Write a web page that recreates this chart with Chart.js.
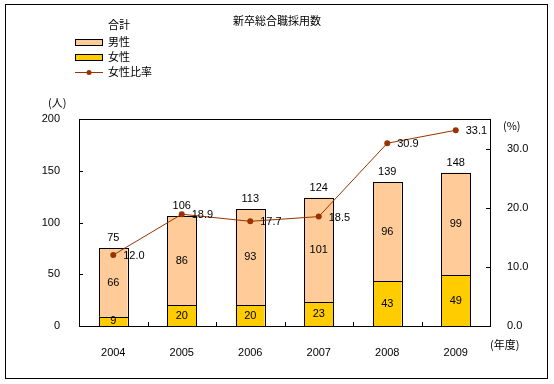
<!DOCTYPE html>
<html lang="ja">
<head>
<meta charset="UTF-8">
<title>新卒総合職採用数</title>
<script src="https://cdn.jsdelivr.net/npm/chart.js"></script>
<style>
  body { margin: 0; background: #fff; }
  #wrap { width: 554px; height: 384px; }
</style>
</head>
<body>
<div id="wrap"><canvas id="grafico" width="554" height="384"></canvas></div>
<script>
// dados
const years = ["2004", "2005", "2006", "2007", "2008", "2009"];
const female = [9, 20, 20, 23, 43, 49];
const male = [66, 86, 93, 101, 96, 99];
const total = [75, 106, 113, 124, 139, 148];
const femaleRatio = [12.0, 18.9, 17.7, 18.5, 30.9, 33.1];
const rightTicks = [0, 10, 20, 30];

const FONT = '"Liberation Sans", "Noto Sans CJK JP", sans-serif';
const JP = '"Noto Sans CJK JP", sans-serif';
const C_MALE = "#FFCC99";
const C_FEMALE = "#FFCC00";
const C_LINE = "#993300";

// desenha moldura, marcas, rótulos, legenda e título
const extras = {
  id: "extras",
  beforeDraw(chart) {
    const ctx = chart.ctx;
    ctx.save();
    ctx.fillStyle = "#fff";
    ctx.fillRect(0, 0, chart.width, chart.height);
    ctx.restore();
  },
  afterDatasetDraw(chart, args) {
    // contorno nítido das barras
    if (args.meta.type !== "bar") return;
    const ctx = chart.ctx;
    ctx.save();
    ctx.strokeStyle = "#000";
    ctx.lineWidth = 1;
    args.meta.data.forEach(b => {
      const l = Math.round(b.x - b.width / 2) + 0.5;
      const r = Math.round(b.x + b.width / 2) + 0.5;
      const t = Math.round(b.y) + 0.5;
      const bt = Math.round(b.base) + 0.5;
      ctx.strokeRect(l, t, r - l, bt - t);
    });
    ctx.restore();
  },
  afterDraw(chart) {
    const ctx = chart.ctx;
    const a = chart.chartArea;
    const x = chart.scales.x, y = chart.scales.y, y1 = chart.scales.y1;
    ctx.save();
    ctx.strokeStyle = "#000";
    ctx.lineWidth = 1;

    // área do gráfico
    ctx.strokeRect(Math.round(a.left) + 0.5, Math.round(a.top) + 0.5,
      Math.round(a.right - a.left), Math.round(a.bottom - a.top));

    // marcas internas
    ctx.beginPath();
    y.ticks.forEach(t => {
      const py = Math.round(y.getPixelForValue(t.value)) + 0.5;
      ctx.moveTo(a.left, py); ctx.lineTo(a.left + 4, py);
    });
    y1.ticks.forEach(t => {
      const py = Math.round(y1.getPixelForValue(t.value)) + 0.5;
      ctx.moveTo(a.right - 4, py); ctx.lineTo(a.right, py);
    });
    const half = (x.getPixelForValue(1) - x.getPixelForValue(0)) / 2;
    for (let i = 1; i < years.length; i++) {
      const px = Math.round(x.getPixelForValue(i) - half) + 0.5;
      ctx.moveTo(px, a.bottom); ctx.lineTo(px, a.bottom - 4);
    }
    ctx.stroke();

    // rótulos de dados
    ctx.fillStyle = "#000";
    ctx.font = "11px " + FONT;
    ctx.textAlign = "center";
    ctx.textBaseline = "middle";
    const fMeta = chart.getDatasetMeta(0).data;
    const mMeta = chart.getDatasetMeta(1).data;
    const lMeta = chart.getDatasetMeta(2).data;
    years.forEach((_, i) => {
      const fb = fMeta[i], mb = mMeta[i];
      ctx.fillText(female[i], fb.x, (fb.y + fb.base) / 2);
      ctx.fillText(male[i], mb.x, (mb.y + mb.base) / 2);
      ctx.fillText(total[i], mb.x, mb.y - 10);
    });
    ctx.textAlign = "left";
    lMeta.forEach((p, i) => {
      ctx.fillText(femaleRatio[i].toFixed(1), p.x + 10, p.y + 1);
    });

    // unidades
    ctx.font = "11px " + JP;
    ctx.fillText("(人)", 48, 103);
    ctx.fillText("(%)", 503, 126);
    ctx.fillText("(年度)", 490, 345);

    // título
    ctx.textAlign = "center";
    ctx.fillText("新卒総合職採用数", 277, 21);

    // legenda
    ctx.textAlign = "left";
    ctx.fillText("合計", 108, 25);
    ctx.fillText("男性", 108, 42);
    ctx.fillText("女性", 108, 57);
    ctx.fillText("女性比率", 108, 72);
    ctx.fillStyle = C_MALE;
    ctx.fillRect(75, 39, 27, 6);
    ctx.strokeRect(75.5, 39.5, 27, 6);
    ctx.fillStyle = C_FEMALE;
    ctx.fillRect(75, 54, 27, 6);
    ctx.strokeRect(75.5, 54.5, 27, 6);
    ctx.strokeStyle = C_LINE;
    ctx.beginPath();
    ctx.moveTo(75, 72.5); ctx.lineTo(103, 72.5);
    ctx.stroke();
    ctx.fillStyle = C_LINE;
    ctx.beginPath();
    ctx.arc(89, 72.5, 2.5, 0, Math.PI * 2);
    ctx.fill();

    // borda externa
    ctx.strokeStyle = "#000";
    ctx.strokeRect(5.5, 4.5, 542, 374);
    ctx.restore();
  }
};

new Chart(document.getElementById("grafico").getContext("2d"), {
  data: {
    labels: years,
    datasets: [
      {
        type: "bar", label: "女性", data: female, yAxisID: "y", order: 2,
        backgroundColor: C_FEMALE, borderWidth: 0,
        categoryPercentage: 1, barPercentage: 0.42
      },
      {
        type: "bar", label: "男性", data: male, yAxisID: "y", order: 2,
        backgroundColor: C_MALE, borderWidth: 0,
        categoryPercentage: 1, barPercentage: 0.42
      },
      {
        type: "line", label: "女性比率", data: femaleRatio, yAxisID: "y1", order: 1,
        borderColor: C_LINE, borderWidth: 1, backgroundColor: C_LINE,
        pointRadius: 3, pointBackgroundColor: C_LINE, pointBorderWidth: 0, tension: 0
      }
    ]
  },
  options: {
    responsive: false,
    animation: false,
    layout: { padding: { left: 10, right: 0, top: 119, bottom: 0 } },
    plugins: { legend: { display: false }, tooltip: { enabled: false } },
    scales: {
      x: {
        stacked: true,
        grid: { display: false },
        border: { display: false },
        ticks: { color: "#000", font: { family: FONT, size: 11 }, padding: 12, maxRotation: 0 },
        afterFit: s => { s.height = 58; }
      },
      y: {
        stacked: true, min: 0, max: 200,
        grid: { display: false },
        border: { display: false },
        ticks: { stepSize: 50, color: "#000", font: { family: FONT, size: 11 }, padding: 11 },
        afterFit: s => { s.width = 69; }
      },
      y1: {
        position: "right", min: 0, max: 35,
        grid: { display: false },
        border: { display: false },
        afterBuildTicks: s => { s.ticks = rightTicks.map(v => ({ value: v })); },
        ticks: {
          color: "#000", font: { family: FONT, size: 11 }, padding: 9,
          callback: v => Number(v).toFixed(1)
        },
        afterFit: s => { s.width = 64; }
      }
    }
  },
  plugins: [extras]
});
</script>
</body>
</html>
